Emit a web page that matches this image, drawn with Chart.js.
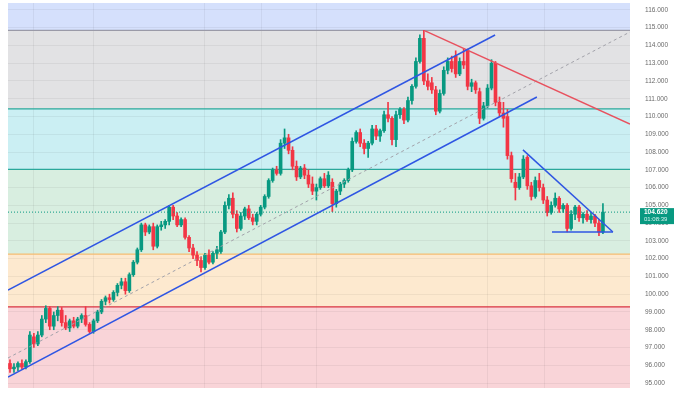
<!DOCTYPE html>
<html>
<head>
<meta charset="utf-8">
<script src="https://cdn.jsdelivr.net/npm/chart.js@4.4.0/dist/chart.umd.min.js"></script>
<style>
  html, body { margin: 0; padding: 0; background: #fff; }
  #wrap { width: 688px; height: 394px; }
</style>
</head>
<body>
<div id="wrap"><canvas id="priceChart"></canvas></div>
<script>
/* =====================================
   DATA
===================================== */

// one row per bar: [open, high, low, close]
const candles = [
    [96.1, 96.3, 95.6, 95.8], [95.8, 96.1, 95.6, 95.9], [95.9, 96.2, 95.7, 96.1], [96.1, 96.3, 95.8, 95.9],
    [95.9, 96.3, 95.8, 96.2], [96.2, 97.9, 96.1, 97.7], [97.6, 97.8, 97.0, 97.2], [97.2, 97.9, 97.1, 97.7],
    [97.7, 98.8, 97.6, 98.6], [98.6, 99.35, 98.4, 99.2], [99.2, 99.3, 98.0, 98.2], [98.2, 99.0, 98.0, 98.8],
    [98.8, 99.3, 98.5, 99.1], [99.1, 99.25, 98.2, 98.4], [98.4, 98.8, 98.0, 98.1], [98.1, 98.6, 97.9, 98.5],
    [98.5, 98.7, 98.1, 98.2], [98.2, 98.7, 98.1, 98.6], [98.6, 98.9, 98.4, 98.8], [98.8, 99.3, 98.2, 98.3],
    [98.3, 98.4, 97.8, 97.9], [97.9, 98.6, 97.8, 98.5], [98.5, 99.1, 98.4, 99.0], [99.0, 99.7, 98.9, 99.6],
    [99.6, 99.9, 99.4, 99.8], [99.8, 100.0, 99.5, 99.7], [99.7, 100.2, 99.6, 100.1], [100.1, 100.6, 99.9, 100.5],
    [100.5, 100.9, 100.3, 100.7], [100.7, 100.9, 100.0, 100.2], [100.2, 101.2, 100.1, 101.1], [101.1, 101.9, 101.0, 101.8],
    [101.8, 102.6, 101.7, 102.5], [102.5, 104.0, 102.4, 103.9], [103.9, 104.0, 103.3, 103.5], [103.5, 103.9, 103.4, 103.8],
    [103.8, 104.0, 102.5, 102.7], [102.7, 103.9, 102.6, 103.8], [103.8, 104.1, 103.6, 103.9], [103.9, 104.2, 103.7, 104.1],
    [104.1, 105.0, 103.9, 104.9], [104.9, 105.0, 104.2, 104.4], [104.4, 104.6, 103.8, 103.9], [103.9, 104.3, 103.8, 104.2],
    [104.2, 104.3, 103.1, 103.2], [103.2, 103.3, 102.4, 102.6], [102.6, 102.8, 102.0, 102.2], [102.2, 102.4, 101.6, 101.9],
    [101.9, 102.1, 101.25, 101.5], [101.5, 102.3, 101.4, 102.2], [102.2, 102.5, 101.7, 101.8], [101.8, 102.4, 101.7, 102.3],
    [102.3, 102.7, 102.0, 102.5], [102.4, 103.6, 102.3, 103.5], [103.5, 105.2, 103.4, 105.0], [105.0, 105.6, 104.8, 105.4],
    [105.4, 105.7, 104.3, 104.5], [104.5, 104.7, 103.5, 103.7], [103.7, 104.6, 103.6, 104.4], [104.4, 104.9, 104.2, 104.8],
    [104.8, 105.0, 104.2, 104.3], [104.3, 104.5, 103.9, 104.1], [104.1, 104.6, 103.9, 104.5], [104.5, 105.0, 104.4, 104.9],
    [104.9, 105.6, 104.8, 105.5], [105.5, 106.5, 105.4, 106.4], [106.4, 107.1, 106.3, 107.0], [107.0, 107.2, 106.7, 106.8],
    [106.8, 108.7, 106.7, 108.5], [108.5, 109.3, 108.2, 108.8], [108.8, 109.0, 107.9, 108.1], [108.1, 108.3, 107.0, 107.2],
    [107.2, 107.5, 106.4, 106.6], [106.6, 107.2, 106.5, 107.1], [107.1, 107.3, 106.5, 106.7], [106.7, 107.0, 106.0, 106.2],
    [106.2, 106.6, 105.6, 105.8], [105.8, 106.2, 105.3, 106.0], [106.0, 106.6, 105.9, 106.5], [106.5, 106.8, 106.0, 106.1],
    [106.1, 106.9, 106.0, 106.7], [106.3, 106.5, 104.65, 105.1], [105.1, 105.9, 104.9, 105.8], [105.8, 106.3, 105.6, 106.2],
    [106.2, 106.5, 106.0, 106.4], [106.4, 107.1, 106.3, 107.0], [107.0, 108.8, 106.9, 108.6], [108.6, 109.2, 108.5, 109.1],
    [109.1, 109.3, 108.3, 108.5], [108.5, 108.7, 107.9, 108.2], [108.2, 108.6, 107.7, 108.5], [108.5, 109.5, 108.4, 109.3],
    [109.3, 109.5, 108.7, 108.9], [108.9, 109.3, 108.6, 109.2], [109.2, 110.3, 109.1, 110.1], [110.1, 110.8, 109.7, 109.9],
    [109.9, 110.0, 108.4, 108.7], [108.7, 110.3, 108.3, 110.1], [110.1, 110.5, 109.9, 110.4], [110.4, 110.5, 109.6, 109.8],
    [109.8, 111.1, 109.7, 110.9], [110.9, 111.8, 110.7, 111.7], [111.7, 113.3, 111.6, 113.1], [113.1, 114.6, 113.0, 114.4],
    [114.4, 114.85, 111.8, 112.0], [112.0, 112.4, 111.5, 111.7], [111.9, 112.2, 111.3, 111.5], [111.5, 111.7, 110.1, 110.3],
    [110.3, 111.5, 110.2, 111.3], [111.3, 112.8, 111.2, 112.6], [112.6, 113.3, 112.4, 113.1], [113.1, 113.4, 112.5, 112.7],
    [113.4, 113.7, 112.2, 112.4], [112.4, 113.3, 112.3, 113.1], [113.1, 113.8, 112.7, 112.9], [113.7, 113.8, 111.5, 111.7],
    [111.7, 112.1, 111.4, 111.9], [111.9, 112.0, 111.3, 111.5], [111.4, 111.6, 109.6, 109.9], [109.9, 110.8, 109.8, 110.6],
    [110.6, 111.8, 110.5, 111.6], [111.6, 113.2, 111.5, 113.0], [113.0, 113.1, 110.6, 110.8], [110.8, 111.1, 110.0, 110.2],
    [110.2, 110.8, 109.4, 109.9], [110.0, 110.4, 107.6, 107.8], [107.8, 108.0, 106.3, 106.5], [106.3, 106.8, 105.3, 106.0],
    [106.0, 106.8, 105.9, 106.6], [106.6, 107.8, 106.5, 107.6], [107.7, 107.8, 105.9, 106.1], [106.1, 106.3, 105.3, 105.5],
    [105.5, 106.6, 105.4, 106.4], [106.4, 106.8, 105.8, 106.0], [106.0, 106.2, 105.1, 105.3], [105.3, 105.5, 104.4, 104.6],
    [104.6, 105.2, 104.5, 105.0], [105.0, 105.7, 104.9, 105.4], [105.4, 105.5, 104.6, 104.8], [104.8, 105.1, 104.6, 105.0],
    [105.0, 105.1, 103.5, 103.7], [103.7, 104.7, 103.6, 104.5], [104.5, 105.0, 104.2, 104.9], [104.9, 105.0, 104.1, 104.3],
    [104.3, 104.6, 104.0, 104.5], [104.5, 104.7, 104.1, 104.2], [104.2, 104.6, 104.0, 104.4], [104.4, 104.5, 103.8, 104.0],
    [104.0, 104.2, 103.3, 103.5], [103.5, 105.1, 103.4, 104.62]
];

const yTicks = [95, 96, 97, 98, 99, 100, 101, 102, 103, 104, 105, 106, 107, 108, 109, 110, 111, 112, 113, 114, 115, 116];
const yRange = [94.72, 116.39];
const xRange = [-0.5, 155.8];

// vertical session separators (bar index)
const gridMarks = [5.8, 20.9, 49, 63.3, 77.1, 120.1, 134.4];

// zone boundaries, top to bottom
const zoneLevels = [116.39, 114.85, 110.43, 107.03, 102.26, 99.29, 94.72];

const lastPrice = 104.62;
const countdown = "01:08:39";

// drawn lines: [[barIndex, price], [barIndex, price]]
const channelUpper = [[-0.5, 100.23], [121.9, 114.59]];
const channelLower = [[-0.5, 95.34], [132.4, 111.10]];
const channelMid = [[-0.5, 96.41], [155.8, 114.76]];
const resistance = [[104.3, 114.82], [155.8, 109.58]];
const wedgeTop = [[128.9, 108.12], [151.5, 103.5]];
const wedgeBase = [[136.2, 103.5], [151.5, 103.5]];


/* =====================================
   STYLE
===================================== */

const UP = "#089981";
const DOWN = "#f23645";
const BLUE = "#2f56e3";
const zoneColors = ["#d5e0fc", "#e2e2e4", "#cbeff3", "#d8eee0", "#fde9cf", "#f9d4d8"];
const levelColors = [null, "#9a9aa8", "#2aa89b", "#2aa89b", "#f5bd72", "#d8323f"];
const FONT = "'Liberation Sans', Arial, sans-serif";

const pts = arr => arr.map(p => ({ x: p[0], y: p[1] }));

function lineSet(points, color, width, dash) {
    return {
        type: "line",
        data: pts(points),
        borderColor: color,
        borderWidth: width,
        borderDash: dash || [],
        pointRadius: 0,
        fill: false,
        order: 1
    };
}


/* =====================================
   PLUGINS
===================================== */

const zonePlugin = {
    id: "zones",
    beforeDraw(chart) {
        const { ctx, chartArea: a, scales: { y } } = chart;
        ctx.save();
        for (let k = 0; k < zoneColors.length; k++) {
            const top = y.getPixelForValue(zoneLevels[k]);
            const bot = y.getPixelForValue(zoneLevels[k + 1]);
            ctx.fillStyle = zoneColors[k];
            ctx.fillRect(a.left, top, a.right - a.left, bot - top);
        }
        ctx.restore();
    }
};

const priceTagPlugin = {
    id: "priceTag",
    afterDraw(chart) {
        const { ctx, chartArea: a, scales: { y } } = chart;
        const py = y.getPixelForValue(lastPrice);
        const bx = a.right + 10;
        ctx.save();
        ctx.fillStyle = UP;
        ctx.fillRect(bx, py - 4, 34, 16);
        ctx.fillStyle = "#fff";
        ctx.textAlign = "left";
        ctx.textBaseline = "middle";
        ctx.font = "bold 6.5px " + FONT;
        ctx.fillText(lastPrice.toFixed(3), bx + 4, py + 0.5);
        ctx.fillStyle = "#d8f3ee";
        ctx.font = "6px " + FONT;
        ctx.fillText(countdown, bx + 4, py + 7.5);
        ctx.restore();
    }
};


/* =====================================
   CHART
===================================== */

const candleColors = candles.map(c => (c[3] >= c[0] ? UP : DOWN));

const datasets = [
    lineSet(channelUpper, BLUE, 1.5),
    lineSet(channelLower, BLUE, 1.5),
    lineSet(wedgeTop, BLUE, 1.5),
    lineSet(wedgeBase, BLUE, 1.5),
    lineSet(resistance, "#e8515e", 1.5),
    lineSet(channelMid, "#a2a2aa", 1, [3, 3]),
    {
        type: "bar",
        data: candles.map((c, i) => ({ x: i, y: [c[0], c[3]] })),
        backgroundColor: candleColors,
        barThickness: 3,
        minBarLength: 1,
        grouped: false,
        order: 3
    },
    {
        type: "bar",
        data: candles.map((c, i) => ({ x: i, y: [c[2], c[1]] })),
        backgroundColor: candleColors,
        barThickness: 1,
        grouped: false,
        order: 4
    }
];

zoneLevels.forEach((lvl, k) => {
    if (!levelColors[k]) return;
    const s = lineSet([[xRange[0], lvl], [xRange[1], lvl]], levelColors[k], 1.2);
    s.order = 5;
    datasets.push(s);
});

const lastLine = lineSet([[xRange[0], lastPrice], [xRange[1], lastPrice]], UP, 1, [1, 2]);
lastLine.order = 2;
datasets.push(lastLine);

const ctx = document.getElementById("priceChart").getContext("2d");

new Chart(ctx, {
    type: "bar",
    data: { datasets },
    options: {
        responsive: true,
        maintainAspectRatio: false,
        animation: false,
        layout: { padding: { left: 8, top: 3, bottom: 6, right: 0 } },
        plugins: {
            legend: { display: false },
            tooltip: { enabled: false }
        },
        scales: {
            x: {
                type: "linear",
                min: xRange[0],
                max: xRange[1],
                offset: false,
                afterBuildTicks: s => { s.ticks = gridMarks.map(v => ({ value: v })); },
                afterFit: s => { s.height = 0; s.paddingLeft = 0; s.paddingRight = 0; },
                ticks: { display: false },
                border: { display: false },
                grid: { color: "rgba(0,0,0,0.05)", drawTicks: false, offset: false }
            },
            y: {
                position: "right",
                min: yRange[0],
                max: yRange[1],
                afterBuildTicks: s => { s.ticks = yTicks.map(v => ({ value: v })); },
                afterFit: s => { s.width = 58; s.paddingTop = 0; s.paddingBottom = 0; },
                border: { display: false },
                grid: { color: "rgba(0,0,0,0.05)", drawTicks: false },
                ticks: {
                    padding: 15,
                    color: "#6a6a6a",
                    font: { size: 6.5, family: FONT },
                    callback: v => v.toFixed(3)
                }
            }
        }
    },
    plugins: [zonePlugin, priceTagPlugin]
});
</script>
</body>
</html>
